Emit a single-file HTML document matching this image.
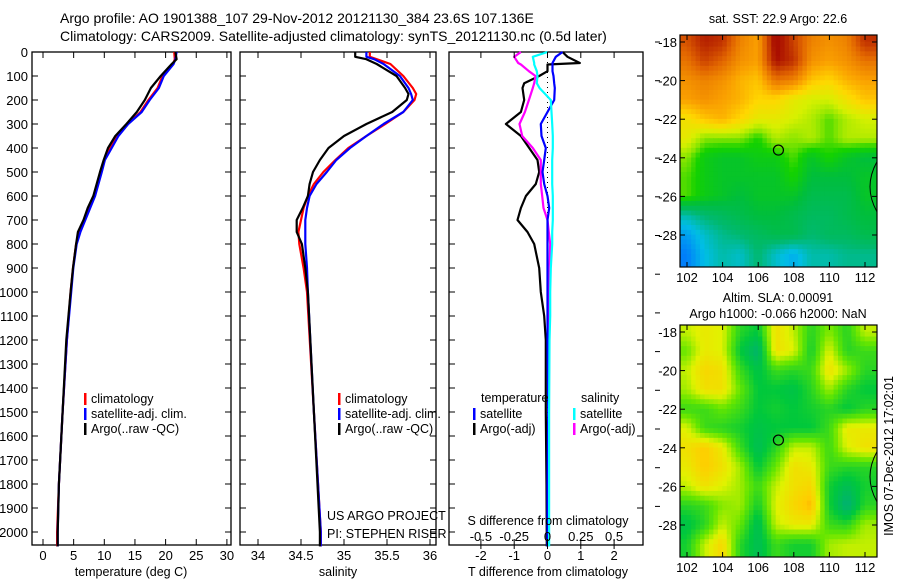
<!DOCTYPE html>
<html><head><meta charset="utf-8"><style>
html,body{margin:0;padding:0;background:#fff;}
svg{display:block;font-family:"Liberation Sans",sans-serif;}
</style></head><body>
<svg id="chart" width="900" height="580" viewBox="0 0 900 580" xmlns="http://www.w3.org/2000/svg">
<text x="60" y="23" font-size="14">Argo profile: AO 1901388_107 29-Nov-2012 20121130_384 23.6S 107.136E</text>
<text x="60" y="41" font-size="14">Climatology: CARS2009. Satellite-adjusted climatology: synTS_20121130.nc (0.5d later)</text>
<g id="g"></g>
</svg>
<script>
// ---- profile data ----
const tDepth = [0,30,50,100,150,200,250,300,350,400,450,500,600,650,700,750,800,900,1000,1200,1500,1800,2000,2060];
const tClim  = [21.4,21.5,21.2,19.5,18.7,17.2,15.9,13.8,12.1,11.0,10.0,9.4,8.3,7.5,6.7,6.0,5.4,4.9,4.5,3.9,3.2,2.6,2.3,2.3];
const tSat   = [21.8,21.6,21.3,19.7,18.9,17.4,16.1,13.9,12.3,11.2,10.1,9.6,8.5,7.7,6.9,6.1,5.5,4.95,4.6,3.9,3.2,2.6,2.4,2.4];
const tArgo  = [21.6,21.8,21.0,19.2,17.6,16.6,15.3,13.6,11.8,10.6,9.9,9.3,8.2,7.3,6.6,5.7,5.4,4.9,4.5,3.8,3.2,2.6,2.4,2.4];
const sDepth = [0,20,30,50,100,150,175,200,250,300,350,400,450,500,550,600,650,700,750,800,900,1000,1500,2000,2060];
const sClim  = [35.30,35.30,35.38,35.54,35.69,35.80,35.84,35.82,35.69,35.48,35.26,35.05,34.90,34.76,34.65,34.58,34.53,34.50,34.47,34.48,34.53,34.57,34.65,34.73,34.73];
const sSat   = [35.26,35.26,35.35,35.46,35.65,35.75,35.78,35.80,35.69,35.46,35.26,35.07,34.91,34.80,34.68,34.60,34.57,34.55,34.55,34.55,34.57,34.58,34.65,34.73,34.73];
const sArgo  = [35.13,35.13,35.26,35.38,35.61,35.71,35.75,35.73,35.56,35.26,35.00,34.82,34.72,34.64,34.60,34.58,34.52,34.45,34.45,34.51,34.55,34.58,34.65,34.72,34.72];
const dDepth = [0,20,46,52,80,100,130,150,200,250,300,350,400,450,500,550,600,650,700,750,800,900,1000,1100,1200,1500,1800,2060];
const dTSat  = [0.45,0.25,0.15,0.15,0.15,0.18,0.2,0.22,0.2,0.0,-0.2,-0.18,-0.05,-0.1,-0.15,-0.1,0,0.05,0,0,0,0,0,0,0,0.02,0,0];
const dTArgo = [0.45,0.6,0.97,0,0,-0.25,-0.7,-0.75,-0.7,-0.8,-1.25,-0.8,-0.55,-0.3,-0.25,-0.35,-0.65,-0.8,-0.9,-0.6,-0.4,-0.25,-0.2,-0.1,-0.05,-0.05,-0.03,-0.02];
const dSSat  = [0,-0.11,-0.1,-0.1,-0.08,-0.075,-0.08,-0.06,0.025,0.03,0.035,0.04,0.04,0.035,0.035,0.035,0.04,0.04,0.04,0.035,0.035,0.025,0.02,0.02,0.015,0.012,0.012,0.012];
const dSArgo = [-0.2,-0.25,-0.22,-0.2,-0.14,-0.09,-0.1,-0.11,-0.14,-0.17,-0.21,-0.19,-0.11,-0.05,-0.05,-0.05,-0.04,-0.03,0,0.01,0.02,0.015,0.015,0.015,0.012,0.01,0.01,0.01];
const depthTicks = [0,100,200,300,400,500,600,700,800,900,1000,1100,1200,1300,1400,1500,1600,1700,1800,1900,2000];
const tTicks = [0,5,10,15,20,25,30];
const sTicks = [34,34.5,35,35.5,36];
const sTickLabels = ["34","34.5","35","35.5","36"];
const dTTicks = [-2,-1,0,1,2];
const dSTicks = [-0.5,-0.25,0,0.25,0.5];
const dSTickLabels = ["-0.5","-0.25","0","0.25","0.5"];
// ---- map data ----
const mapLons = [102,103,104,105,106,107,108,109,110,111,112];
const mapLats = [-18,-19,-20,-21,-22,-23,-24,-25,-26,-27,-28,-29];
const lonTicks = [102,104,106,108,110,112];
const latTicks = [-18,-20,-22,-24,-26,-28];
const sst = [
[24.3,24.6,24.5,24.0,23.8,24.8,24.4,24.0,23.9,24.0,24.5],
[24.1,24.4,24.2,23.9,23.8,24.7,24.5,23.9,23.8,23.9,24.1],
[23.9,24.0,23.9,23.7,23.6,24.1,24.0,23.6,23.5,23.7,23.8],
[23.8,23.9,23.8,23.7,23.5,23.5,23.3,23.2,23.2,23.4,23.6],
[23.4,23.6,23.7,23.5,23.3,23.3,23.2,23.1,22.9,23.1,23.2],
[23.3,23.0,23.0,23.0,22.8,23.1,23.0,23.1,22.9,23.1,23.1],
[23.0,22.7,22.6,22.6,22.7,22.7,22.9,22.6,22.8,22.6,22.5],
[22.9,22.7,22.6,22.6,22.6,22.6,22.8,22.5,22.5,22.5,22.6],
[22.9,22.7,22.6,22.5,22.6,22.6,22.6,22.4,22.4,22.4,22.6],
[22.0,22.2,22.3,22.4,22.5,22.5,22.4,22.3,22.3,22.4,22.5],
[21.6,21.9,22.1,22.2,22.3,22.4,22.4,22.2,22.3,22.3,22.4],
[21.4,21.8,22.0,21.9,22.2,21.9,21.7,22.0,22.0,22.1,22.1]];
const sla = [
[0.3,0.5,0.4,-0.3,-0.5,0.6,0.3,-0.3,0.1,-0.3,0.3],
[0.0,0.5,0.4,-0.5,-0.9,0.6,0.4,-0.4,0.4,-0.3,-0.2],
[0.3,0.7,0.6,-0.2,-0.6,-0.2,-0.3,-0.2,0.6,0.2,-0.3],
[0.2,0.6,0.6,0.0,-0.5,-0.5,-0.6,-0.3,0.2,-0.3,-0.5],
[-0.2,-0.2,0.0,-0.2,-0.5,-0.4,-0.5,-0.4,-0.3,-0.5,-0.3],
[0.4,-0.2,-0.3,-0.4,-0.6,-0.5,-0.5,-0.5,-0.2,0.5,0.5],
[0.6,0.8,0.5,-0.2,-0.7,-0.3,0.3,0.3,-0.2,0.4,0.6],
[0.5,0.8,0.6,0.2,-0.5,0.0,0.6,0.5,-0.2,-0.3,-0.3],
[0.3,0.6,0.4,0.2,-0.2,0.3,0.6,0.7,-0.4,-0.7,-0.4],
[-0.3,-0.2,0.1,0.2,-0.4,0.4,0.7,0.9,-0.4,-1.0,-0.3],
[-0.6,-0.3,0.3,0.0,-0.7,0.3,0.5,0.5,-0.2,-0.3,0.2],
[-0.4,0.3,0.7,-0.3,-0.7,-0.2,-0.4,-0.4,0.2,0.3,0.3]];
const argoLon = 107.136, argoLat = -23.6;

const NS="http://www.w3.org/2000/svg";
const G=document.getElementById('g');
function mk(tag,attrs,parent){const e=document.createElementNS(NS,tag);for(const k in attrs)e.setAttribute(k,attrs[k]);(parent||G).appendChild(e);return e;}
function txt(x,y,s,anchor,size,parent){const t=mk('text',{x:x,y:y,'font-size':size||12,'text-anchor':anchor||'start'},parent);t.textContent=s;return t;}

const yD = d => 52 + d*0.24;
const xT = t => 43 + t*6.13;
const xS = s => 258 + (s-34)*86;
const xDT = v => 547.5 + v*33.3;
const xDS = v => 547.5 + v*4*33.3;

function frame(x0,x1,name){
  const r=mk('rect',{x:x0,y:52,width:x1-x0,height:493,fill:'none',stroke:'#000','stroke-width':1.3});
  
  
  depthTicks.forEach(d=>{mk('line',{x1:x0,x2:x0+6,y1:yD(d),y2:yD(d),stroke:'#000'});mk('line',{x1:x1-6,x2:x1,y1:yD(d),y2:yD(d),stroke:'#000'});});
}
function line(xs,ds,xf,color,name,w){
  const p=xs.map((v,i)=>xf(v).toFixed(1)+','+yD(ds[i]).toFixed(1)).join(' ');
  const e=mk('polyline',{points:p,fill:'none',stroke:color,'stroke-width':w||2.2,'stroke-linejoin':'round'});
  
  
}
function xticks(ticks,labels,xf,x0,x1,title,tx){
  ticks.forEach((t,i)=>{const x=xf(t);mk('line',{x1:x,x2:x,y1:545,y2:539,stroke:'#000'});mk('line',{x1:x,x2:x,y1:52,y2:58,stroke:'#000'});
    const l=txt(x,560,labels[i],'middle',13);
    
    });
  const tt=txt(tx,576,title,'middle',12.5);
  
  
}
function legendEntry(x,y,color,label){
  mk('rect',{x:x,y:y-10,width:2.5,height:12,fill:color});
  const t=txt(x+7,y,label,'start',12.5);
  
  
}
depthTicks.forEach(d=>{const t=txt(28,yD(d)+5,String(d),'end',13);
  
  });

// panel 1
frame(32,231,'temperature-panel');
line(tClim,tDepth,xT,'#ff0000','temp-climatology-line');
line(tSat,tDepth,xT,'#0000ff','temp-satellite-line');
line(tArgo,tDepth,xT,'#000000','temp-argo-line');
xticks(tTicks,tTicks.map(String),xT,32,231,'temperature (deg C)',131);
legendEntry(84,403,'#ff0000','climatology');
legendEntry(84,418,'#0000ff','satellite-adj. clim.');
legendEntry(84,433,'#000000','Argo(..raw -QC)');

// panel 2
frame(240,436,'salinity-panel');
line(sClim,sDepth,xS,'#ff0000','sal-climatology-line');
line(sSat,sDepth,xS,'#0000ff','sal-satellite-line');
line(sArgo,sDepth,xS,'#000000','sal-argo-line');
xticks(sTicks,sTickLabels,xS,240,436,'salinity',338);
legendEntry(338,403,'#ff0000','climatology');
legendEntry(338,418,'#0000ff','satellite-adj. clim.');
legendEntry(338,433,'#000000','Argo(..raw -QC)');
txt(327,520,'US ARGO PROJECT','start',12.5);
txt(327,538,'PI: STEPHEN RISER','start',12.5);

// panel 3
frame(449,643,'difference-panel');
mk('line',{x1:547.5,x2:547.5,y1:52,y2:545,stroke:'#000','stroke-dasharray':'1,4'});
line(dTArgo,dDepth,xDT,'#000000','tdiff-argo-line');
line(dSArgo,dDepth,xDS,'#ff00ff','sdiff-argo-line');
line(dTSat,dDepth,xDT,'#0000ff','tdiff-satellite-line');
line(dSSat,dDepth,xDS,'#00ffff','sdiff-satellite-line');
xticks(dTTicks,dTTicks.map(String),xDT,449,643,'T difference from climatology',548);
dSTicks.forEach((t,i)=>{const x=xDS(t);mk('line',{x1:x,x2:x,y1:545,y2:549,stroke:'#000'});txt(x,541,dSTickLabels[i],'middle',13);});
txt(548,525,'S difference from climatology','middle',12.5);
txt(481,402,'temperature','start',12.5);
txt(581,402,'salinity','start',12.5);
legendEntry(473,418,'#0000ff','satellite');
legendEntry(473,433,'#000000','Argo(-adj)');
legendEntry(573,418,'#00ffff','satellite');
legendEntry(573,433,'#ff00ff','Argo(-adj)');
for(let k=0;k<13;k++){const y=42+38.7*k;mk('line',{x1:655,x2:660,y1:y,y2:y,stroke:'#000'});}

// maps
function col(stops,v){
  let c=stops[stops.length-1][1];
  if(v<=stops[0][0])c=stops[0][1];
  else for(let i=1;i<stops.length;i++){if(v<=stops[i][0]){const a=stops[i-1],b=stops[i],f=(v-a[0])/(b[0]-a[0]);
    c=a[1].map((q,j)=>Math.round(q+(b[1][j]-q)*f));break;}}
  return 'rgb('+c.join(',')+')';
}
const sstStops=[[21.3,[0,110,255]],[21.8,[0,190,230]],[22.2,[0,185,110]],[22.5,[0,190,60]],[22.8,[20,210,0]],[23.0,[140,230,0]],[23.2,[215,240,0]],[23.5,[255,215,0]],[23.8,[250,160,0]],[24.2,[225,100,0]],[24.7,[170,15,0]]];
const slaStops=[[-1,[0,175,120]],[-0.5,[0,200,60]],[0,[100,230,0]],[0.4,[225,242,0]],[0.8,[255,205,0]],[1,[250,160,0]]];
function sample(vals,fi,fj){
  const ni=vals.length,nj=vals[0].length;
  fi=Math.max(0,Math.min(ni-1,fi));fj=Math.max(0,Math.min(nj-1,fj));
  const i0=Math.min(ni-2,Math.floor(fi)),j0=Math.min(nj-2,Math.floor(fj));
  const a=fi-i0,b=fj-j0;
  return vals[i0][j0]*(1-a)*(1-b)+vals[i0+1][j0]*a*(1-b)+vals[i0][j0+1]*(1-a)*b+vals[i0+1][j0+1]*a*b;
}
function map(y0,vals,stops,name){
  const x0=680,x1=877,y1=y0+232;
  const xL=lon=>687+(lon-102)*17.8, yL=lat=>(y0+7)+(-18-lat)*19.3;
  const grp=mk('g',{});
  
  
  mk('clipPath',{id:'c'+y0},grp);
  mk('rect',{x:x0,y:y0,width:x1-x0,height:y1-y0},grp.lastChild);
  const cg=mk('g',{'clip-path':'url(#c'+y0+')'},grp);
  const sub=4, step=1/sub;
  for(let lat=-17.5;lat>-30;lat-=step){
    for(let lon=101.5;lon<113;lon+=step){
      const la=lat-step/2, lo=lon+step/2;
      const v=sample(vals,(-18-la),(lo-102));
      const cell=mk('rect',{x:xL(lon)-0.3,y:yL(lat)-0.3,width:17.8*step+0.6,height:19.3*step+0.6,fill:col(stops,v)},cg);
      
      
    }
  }
  mk('path',{d:`M ${x1} ${yL(-24.2)} Q ${x1-14} ${yL(-25.5)} ${x1} ${yL(-26.8)}`,fill:'none',stroke:'#000'},cg);
  const c=mk('circle',{cx:xL(argoLon),cy:yL(argoLat),r:5,fill:'none',stroke:'#000','stroke-width':1.2},grp);
  
  
  mk('rect',{x:x0,y:y0,width:x1-x0,height:y1-y0,fill:'none',stroke:'#000','stroke-width':1.2},grp);
  latTicks.forEach(l=>{const y=yL(l);mk('line',{x1:x0,x2:x0+5,y1:y,y2:y,stroke:'#000'},grp);mk('line',{x1:x1-5,x2:x1,y1:y,y2:y,stroke:'#000'},grp);txt(677,y+5,String(l),'end',13,grp);});
  lonTicks.forEach(l=>{const x=xL(l);mk('line',{x1:x,x2:x,y1:y0,y2:y0+5,stroke:'#000'},grp);mk('line',{x1:x,x2:x,y1:y1-5,y2:y1,stroke:'#000'},grp);txt(x,y1+15,String(l),'middle',13,grp);});
}
map(35,sst,sstStops,'sst-map');
map(325,sla,slaStops,'sla-map');
txt(778,23,'sat. SST: 22.9 Argo: 22.6','middle',12.5);
txt(778,302,'Altim. SLA: 0.00091','middle',12.5);
txt(778,318,'Argo h1000: -0.066 h2000: NaN','middle',12.5);
const r=txt(0,0,'IMOS 07-Dec-2012 17:02:01','middle',12.5);
r.setAttribute('transform','translate(893,456) rotate(-90)');
</script>
</body></html>
